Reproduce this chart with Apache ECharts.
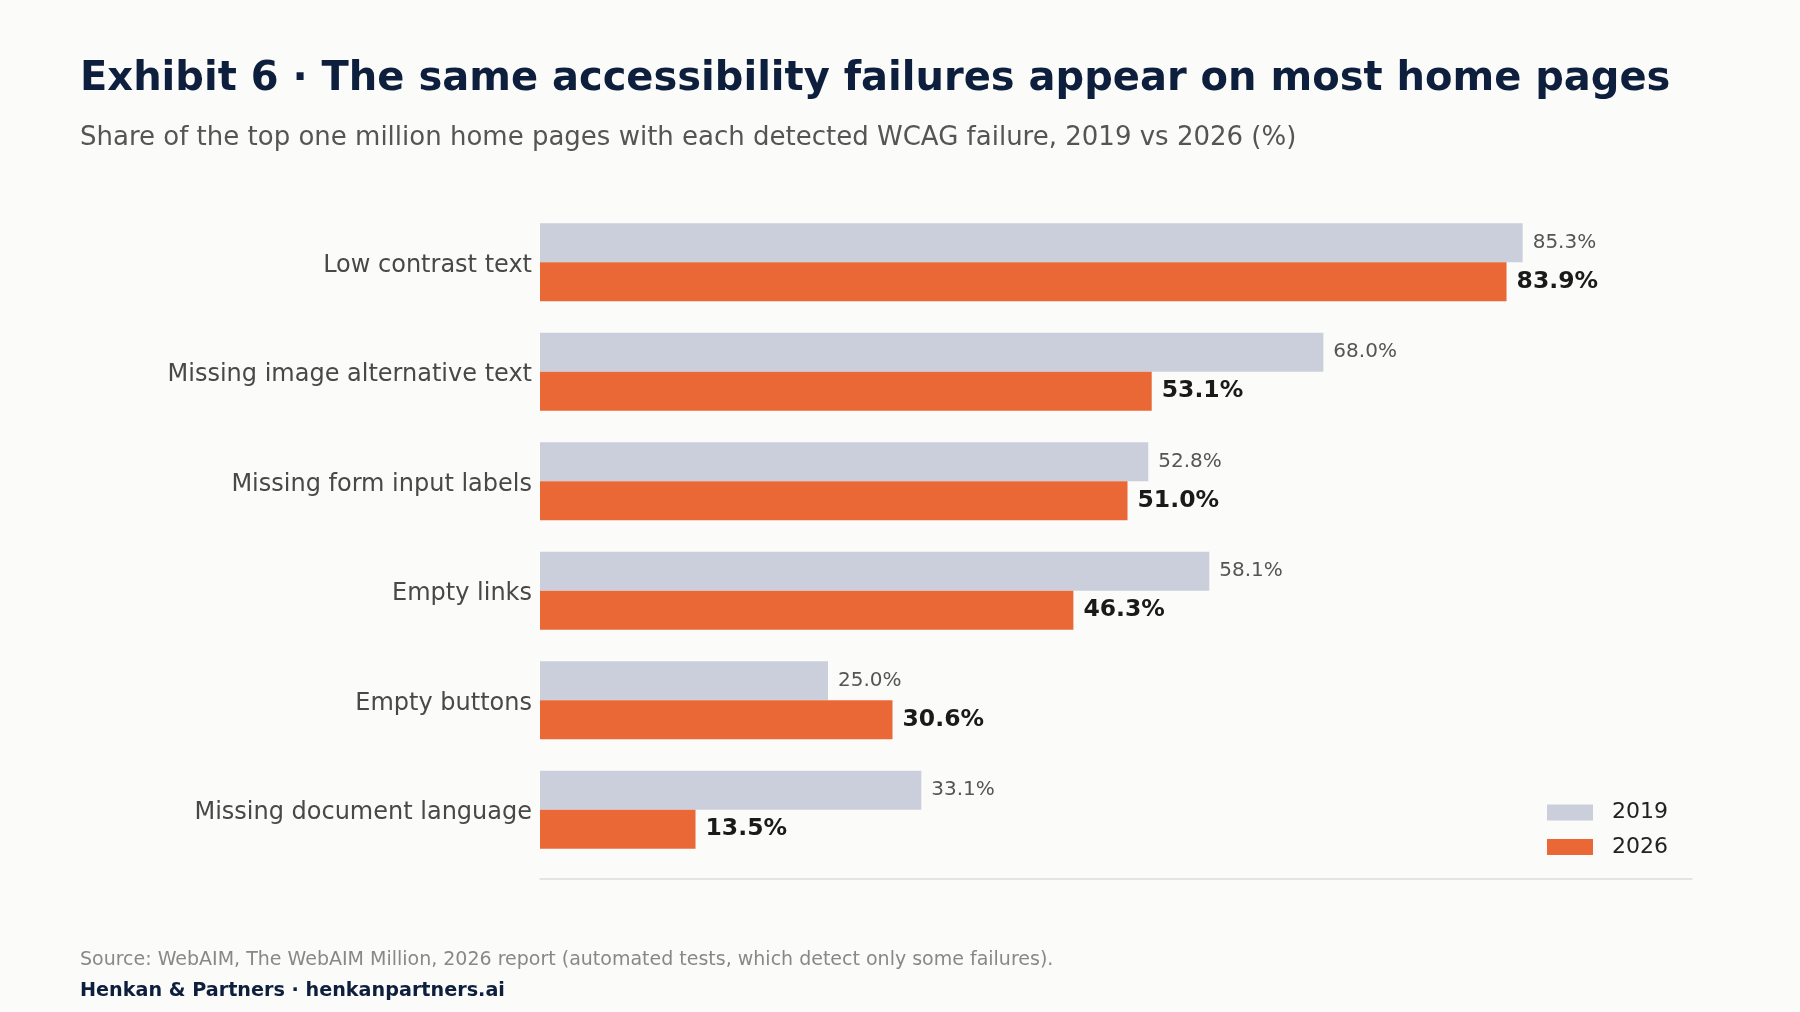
<html>
<head>
<meta http-equiv="Content-Type" content="text/html; charset=utf-8" />
<script src="https://cdn.jsdelivr.net/npm/echarts@6/dist/echarts.min.js"></script>
<style>
  html, body { margin: 0; padding: 0; background: #fbfbfa; }
</style>
</head>
<body>
<div id="chart" style="width:1800px;height:1012px;"></div>
<script type="text/javascript">
// data read from the exhibit
var categories = [
    'Low contrast text',
    'Missing image alternative text',
    'Missing form input labels',
    'Empty links',
    'Empty buttons',
    'Missing document language'
];
var values2019 = [85.3, 68.0, 52.8, 58.1, 25.0, 33.1];
var values2026 = [83.9, 53.1, 51.0, 46.3, 30.6, 13.5];
var seriesNames = ['2019', '2026'];

var font = 'DejaVu Sans';
var myChart = echarts.init(document.getElementById('chart'));

function pct(p) { return p.value.toFixed(1) + '%'; }

myChart.setOption({
    backgroundColor: '#fbfbfa',
    animation: false,
    textStyle: { fontFamily: font },
    title: [{
        text: 'Exhibit 6 \u00b7 The same accessibility failures appear on most home pages',
        left: 80, top: 59.5, padding: 0,
        textStyle: { fontFamily: font, fontSize: 40, fontWeight: 'bold', color: '#0d1f3c' }
    }, {
        text: 'Share of the top one million home pages with each detected WCAG failure, 2019 vs 2026 (%)',
        left: 80, top: 125.5, padding: 0,
        textStyle: { fontFamily: font, fontSize: 26, fontWeight: 'normal', color: '#555555' }
    }, {
        text: 'Source: WebAIM, The WebAIM Million, 2026 report (automated tests, which detect only some failures).',
        left: 80, top: 950.5, padding: 0,
        textStyle: { fontFamily: font, fontSize: 19, fontWeight: 'normal', color: '#888888' }
    }, {
        text: 'Henkan & Partners \u00b7 henkanpartners.ai',
        left: 80, top: 981.5, padding: 0,
        textStyle: { fontFamily: font, fontSize: 19.2, fontWeight: 'bold', color: '#0d1f3c' }
    }],
    legend: {
        orient: 'vertical',
        left: 1547, top: 801.5,
        padding: 0,
        itemWidth: 46, itemHeight: 16, itemGap: 12.6,
        icon: 'rect',
        data: seriesNames,
        textStyle: { fontFamily: font, fontSize: 22, color: '#222222', padding: [0, 0, 0, 14] }
    },
    grid: { left: 540, right: 108, top: 207.5, bottom: 147.5, containLabel: false },
    xAxis: {
        type: 'value', min: 0, max: 100,
        offset: 14.5,
        axisLine: { show: true, lineStyle: { color: '#dddddd', width: 1.5 } },
        axisTick: { show: false },
        axisLabel: { show: false },
        splitLine: { show: false }
    },
    yAxis: {
        type: 'category', inverse: true,
        data: categories,
        axisLine: { show: false },
        axisTick: { show: false },
        axisLabel: {
            margin: 8,
            formatter: function (v) { return '{c|' + v + '}'; },
            rich: { c: { fontFamily: font, fontSize: 24, color: '#484848', padding: [7, 0, 0, 0] } }
        }
    },
    series: [{
        name: seriesNames[0], type: 'bar',
        data: values2019,
        barGap: '0%', barCategoryGap: '28.6%',
        itemStyle: { color: '#cbcfdb' },
        label: {
            show: true, position: 'right', distance: 10,
            formatter: pct,
            fontFamily: font, fontSize: 20, color: '#555555'
        }
    }, {
        name: seriesNames[1], type: 'bar',
        data: values2026,
        barGap: '0%', barCategoryGap: '28.6%',
        itemStyle: { color: '#ea6836' },
        label: {
            show: true, position: 'right', distance: 10,
            formatter: pct,
            fontFamily: font, fontSize: 23.5, fontWeight: 'bold', color: '#1a1a1a'
        }
    }]
});
</script>
</body>
</html>
